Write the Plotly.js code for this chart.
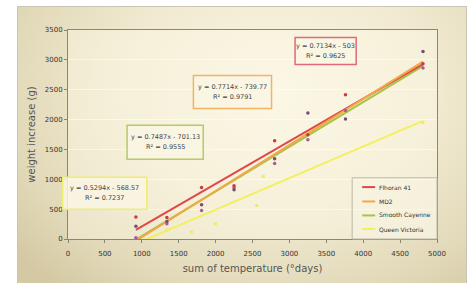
<!DOCTYPE html>
<html><head><meta charset="utf-8">
<script src="https://cdn.plot.ly/plotly-3.0.1.min.js"></script>
<style>
html,body{margin:0;padding:0;background:#fff;width:473px;height:283px;overflow:hidden;}
#panel{position:absolute;left:17px;top:6px;width:448px;height:285px;border:1px solid #c9c4b4;
background:radial-gradient(ellipse 75% 90% at 58% 30%, #faf5e3 0%, #f2ebd2 45%, #e2d9b9 80%, #d4c9a3 100%);}
#chart{position:absolute;left:0;top:0;width:473px;height:283px;}
</style></head><body>
<div id="panel"></div>
<div id="chart"></div>
<script>
// ---- data ----
const varieties = ["Flhoran 41", "MD2", "Smooth Cayenne", "Queen Victoria"];
const xFlhoran = [920, 1340, 1810, 2250, 2800, 3250, 3760, 4810];
const yFlhoran = [368, 362, 864, 893, 1647, 1747, 2417, 2935];
const xMD2 = [920, 1340, 1810, 2250, 2800, 3250, 3760, 4810];
const yMD2 = [214, 295, 575, 826, 1345, 2111, 2010, 3142];
const xSC = [920, 1340, 1810, 2250, 2800, 3250, 3760, 4810];
const ySC = [20, 256, 479, 860, 1266, 1663, 2150, 2864];
const xQV = [1340, 1675, 2000, 2557, 2647, 4810];
const yQV = [150, 117, 256, 563, 1049, 1950];
// trendline end points (from the equations on the chart)
const trendX = [920, 4810];
const trendFlhoran = [153, 2928];
const trendMD2 = [-30, 2971];
const trendSC = [-12, 2900];
const trendQV = [-81, 1978];
const eqLines = ["y = 0.7134x - 503", "y = 0.7714x - 739.77", "y = 0.7487x - 701.13", "y = 0.5294x - 568.57"];
const r2Lines = ["R² = 0.9625", "R² = 0.9791", "R² = 0.9555", "R² = 0.7237"];
const xTicks = [0, 500, 1000, 1500, 2000, 2500, 3000, 3500, 4000, 4500, 5000];
const yTicks = [0, 500, 1000, 1500, 2000, 2500, 3000, 3500];

// ---- styling ----
const lineColors = ["#e04848", "#f0a848", "#a8c448", "#f2f060"];
const markColors = ["#d03838", "#7a4a78", "#a85aa8", "#ecea70"];
const FONT = "DejaVu Sans, sans-serif";
const L = 68.3, R = 436.7, T = 30, B = 239.3;
const px = v => (v - L) / (R - L);
const py = v => (B - v) / (B - T);

const traces = [];
const order = [3, 2, 0, 1];
const xs = [xFlhoran, xMD2, xSC, xQV];
const ys = [yFlhoran, yMD2, ySC, yQV];
const trends = [trendFlhoran, trendMD2, trendSC, trendQV];
order.forEach(i => {
  traces.push({x: trendX, y: trends[i], mode: "lines", type: "scatter",
    line: {color: lineColors[i], width: 2}, showlegend: false, hoverinfo: "skip"});
});
order.forEach(i => {
  traces.push({x: xs[i], y: ys[i], mode: "markers", type: "scatter",
    marker: {color: markColors[i], size: 3.5}, showlegend: false, name: varieties[i]});
});

const boxes = [
  {cx: 325.5, cy: 51, w: 61, h: 27, c: "#e06a78"},
  {cx: 232.5, cy: 92, w: 78, h: 33, c: "#f0b464"},
  {cx: 165.3, cy: 142.5, w: 76, h: 34, c: "#b4cc64"},
  {cx: 105, cy: 193.5, w: 84, h: 32, c: "#eeee70"}
];
const annotations = [];
const shapes = [];
boxes.forEach((b, i) => {
  shapes.push({type: "rect", xref: "paper", yref: "paper",
    x0: px(b.cx - b.w / 2), x1: px(b.cx + b.w / 2), y0: py(b.cy + b.h / 2), y1: py(b.cy - b.h / 2),
    line: {color: b.c, width: 1.5}, fillcolor: "rgba(250,246,228,0.85)"});
  const fs = 6.5;
  annotations.push({xref: "paper", yref: "paper", x: px(b.cx), y: py(b.cy - 5), xanchor: "center", yanchor: "middle",
    text: eqLines[i], showarrow: false, font: {family: FONT, size: fs, color: "#444"}});
  annotations.push({xref: "paper", yref: "paper", x: px(b.cx), y: py(b.cy + 5), xanchor: "center", yanchor: "middle",
    text: r2Lines[i], showarrow: false, font: {family: FONT, size: fs, color: "#444"}});
});
shapes.push({type: "rect", xref: "paper", yref: "paper", x0: px(352), x1: px(436.7), y0: py(178), y1: py(239.3),
  line: {color: "#bdb8a8", width: 1}, fillcolor: "rgba(250,246,230,0.5)"});
const legY = [187.3, 201.7, 215.7, 229.3];
varieties.forEach((v, i) => {
  shapes.push({type: "line", xref: "paper", yref: "paper", x0: px(362), x1: px(375), y0: py(legY[i]), y1: py(legY[i]),
    line: {color: lineColors[i], width: 2}});
  annotations.push({xref: "paper", yref: "paper", x: px(377), y: py(legY[i]), xanchor: "left", yanchor: "middle",
    text: v, showarrow: false, font: {family: FONT, size: 6, color: "#333"}});
});

const layout = {
  width: 473, height: 283,
  margin: {l: L, r: 473 - R, t: T, b: 283 - B, pad: 0},
  paper_bgcolor: "rgba(0,0,0,0)",
  plot_bgcolor: "rgba(255,251,236,0.35)",
  showlegend: false,
  font: {family: FONT, size: 7, color: "#333"},
  xaxis: {range: [0, 5000], tickvals: xTicks, ticks: "outside", ticklen: 3, tickcolor: "#8a8678",
    showline: true, linecolor: "#8a8678", linewidth: 1, mirror: true, showgrid: false, zeroline: false,
    ticklabelstandoff: 5, tickfont: {family: FONT, size: 7, color: "#333"},
    title: {text: "sum of temperature (°days)", font: {family: FONT, size: 10, color: "#555"}, standoff: 7}},
  yaxis: {range: [0, 3500], tickvals: yTicks, ticks: "outside", ticklen: 3, tickcolor: "#8a8678",
    showline: true, linecolor: "#8a8678", linewidth: 1, mirror: true, showgrid: true,
    gridcolor: "rgba(255,255,255,0.55)", zeroline: false, tickfont: {family: FONT, size: 7, color: "#333"},
    title: {text: "weight increase (g)", font: {family: FONT, size: 10, color: "#555"}, standoff: 7}},
  annotations: annotations,
  shapes: shapes
};
Plotly.newPlot("chart", traces, layout, {displayModeBar: false, staticPlot: true});
</script>
</body></html>
